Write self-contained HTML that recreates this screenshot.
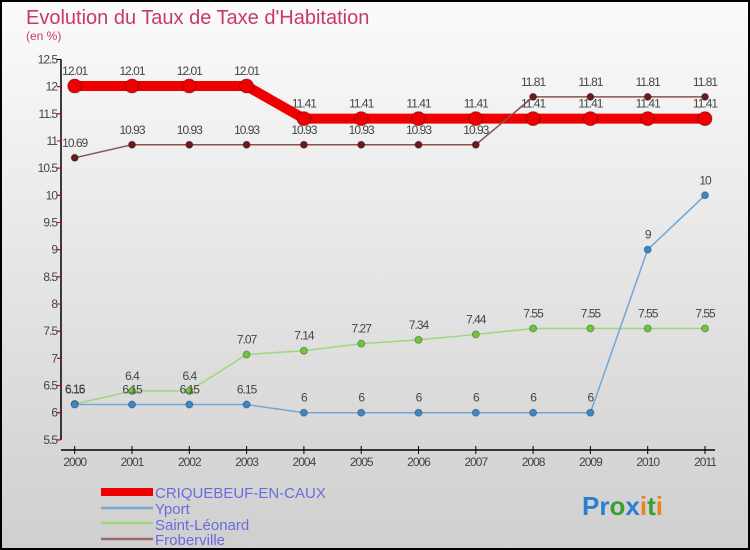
<!DOCTYPE html>
<html><head><meta charset="utf-8"><style>
html,body{margin:0;padding:0}
body{width:750px;height:550px;overflow:hidden}
svg{display:block;font-family:"Liberation Sans",sans-serif}
</style></head><body>
<svg id="c" width="750" height="550">
<defs><linearGradient id="bg" x1="0" y1="0" x2="0" y2="1"><stop offset="0" stop-color="#fbfbfb"/><stop offset="1" stop-color="#cfcfcf"/></linearGradient></defs>
<rect x="1" y="1" width="748" height="548" fill="url(#bg)" stroke="#000" stroke-width="2"/>
<text x="26" y="24" font-size="20" fill="#c8396a">Evolution du Taux de Taxe d'Habitation</text>
<text x="26" y="40" font-size="12" fill="#c8396a">(en %)</text>
<g id="axes"></g><g id="series"></g>
<g>
<rect x="101" y="488" width="52" height="8" fill="#ee0000"/>
<text x="155" y="498" font-size="15" fill="#6b6bdc">CRIQUEBEUF-EN-CAUX</text>
<line x1="101" y1="508" x2="153" y2="508" stroke="#7aa8cc" stroke-width="2.5"/>
<text x="155" y="514" font-size="15" fill="#6b6bdc">Yport</text>
<line x1="101" y1="523" x2="153" y2="523" stroke="#9ed87a" stroke-width="2.5"/>
<text x="155" y="530" font-size="15" fill="#6b6bdc">Saint-Léonard</text>
<line x1="101" y1="539" x2="153" y2="539" stroke="#9a6a6a" stroke-width="2.5"/>
<text x="155" y="545" font-size="15" fill="#6b6bdc">Froberville</text>
</g>
<g font-size="26" font-weight="bold">
<text x="582" y="515"><tspan fill="#2a7fd0">Pr</tspan><tspan fill="#3aa030">o</tspan><tspan fill="#2a7fd0">x</tspan><tspan fill="#f08020">i</tspan><tspan fill="#3aa030">t</tspan><tspan fill="#f08020">i</tspan></text>
</g>
</svg>
<script>
const years=["2000","2001","2002","2003","2004","2005","2006","2007","2008","2009","2010","2011"];
const criquebeuf=[12.01,12.01,12.01,12.01,11.41,11.41,11.41,11.41,11.41,11.41,11.41,11.41];
const yport=[6.15,6.15,6.15,6.15,6,6,6,6,6,6,9,10];
const saintLeonard=[6.16,6.4,6.4,7.07,7.14,7.27,7.34,7.44,7.55,7.55,7.55,7.55];
const froberville=[10.69,10.93,10.93,10.93,10.93,10.93,10.93,10.93,11.81,11.81,11.81,11.81];
const yTicks=[5.5,6,6.5,7,7.5,8,8.5,9,9.5,10,10.5,11,11.5,12,12.5];
const NS="http://www.w3.org/2000/svg";
const X=i=>74.7+i*57.3;
const Y=v=>412.7-(v-6)*54.35;
function mk(tag,attrs,parent,txt){const e=document.createElementNS(NS,tag);for(const k in attrs)e.setAttribute(k,attrs[k]);if(txt!==undefined)e.textContent=txt;parent.appendChild(e);return e;}
const ax=document.getElementById('axes');
let yl=mk('line',{x1:61,y1:Y(12.5),x2:61,y2:Y(5.5),stroke:'#000','stroke-width':1.5},ax);


let xl=mk('line',{x1:61,y1:450,x2:715,y2:450,stroke:'#000','stroke-width':1.5},ax);


yTicks.forEach(v=>{
  mk('line',{x1:57,y1:Y(v),x2:61,y2:Y(v),stroke:'#000'},ax);
  mk('line',{x1:57,y1:Y(v)+27.2,x2:61,y2:Y(v)+27.2,stroke:v>5.5?'#e00':'none'},ax);
  const t=mk('text',{x:57,y:Y(v)+4,'text-anchor':'end','font-size':12,fill:'#444','letter-spacing':'-1'},ax,String(v));
  
  
});
years.forEach((y,i)=>{
  mk('line',{x1:X(i),y1:446,x2:X(i),y2:454,stroke:'#000'},ax);
  const t=mk('text',{x:X(i),y:466,'text-anchor':'middle','font-size':12,fill:'#444','letter-spacing':'-1'},ax,y);
  
  
});
const sg=document.getElementById('series');
function series(name,data,color,dot,w,r){
  const g=mk('g',{},sg);
  
  
  mk('polyline',{points:data.map((v,i)=>X(i)+','+Y(v)).join(' '),fill:'none',stroke:color,'stroke-width':w},g);
  data.forEach((v,i)=>{
    const c=mk('circle',{cx:X(i),cy:Y(v),r:r,fill:dot,stroke:'rgba(0,0,0,0.3)'},g);
    
    
    const t=mk('text',{x:X(i),y:Y(v)-11,'text-anchor':'middle','font-size':12,fill:'#444','letter-spacing':'-1'},g,String(v));
    
    
  });
}
series('criquebeuf',criquebeuf,'#ee0000','#ee0000',10,7);
series('froberville',froberville,'#8a5252','#6a1c1c',1.5,3.5);
series('saint-leonard',saintLeonard,'#9ed87a','#6cc83a',1.5,3.5);
series('yport',yport,'#6fa8d8','#3a88c8',1.5,3.5);
</script>
</body></html>
